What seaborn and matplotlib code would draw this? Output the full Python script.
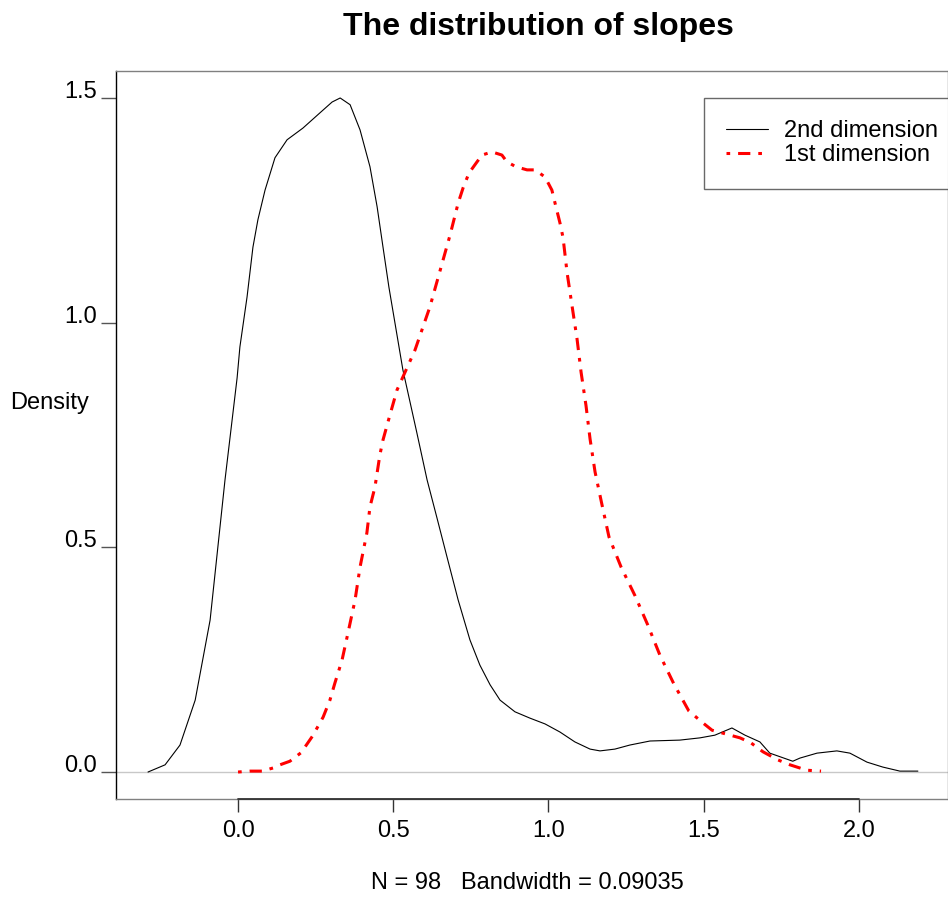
import pandas as pd
import matplotlib
matplotlib.use("Agg")
import matplotlib.pyplot as plt
import matplotlib.transforms as mtransforms
import seaborn as sns

# values
dim2_x = [-0.290, -0.235, -0.187, -0.138, -0.090, -0.042, -0.003, 0.006, 0.029, 0.048,
          0.064, 0.087, 0.119, 0.158, 0.209, 0.264, 0.303, 0.329, 0.361, 0.393,
          0.425, 0.448, 0.467, 0.486, 0.531, 0.576, 0.609, 0.641, 0.673,
          0.709, 0.747, 0.779, 0.812, 0.844, 0.892, 0.940, 0.989, 1.037, 1.085,
          1.134, 1.166, 1.214, 1.262, 1.327, 1.423, 1.488, 1.536, 1.591, 1.633,
          1.681, 1.713, 1.787, 1.810, 1.865, 1.929, 1.971, 2.026, 2.077, 2.132, 2.190]
dim2_y = [0.000, 0.016, 0.060, 0.160, 0.338, 0.650, 0.877, 0.946, 1.057, 1.168,
          1.229, 1.295, 1.367, 1.407, 1.433, 1.467, 1.491, 1.500, 1.485, 1.429,
          1.347, 1.258, 1.168, 1.079, 0.895, 0.755, 0.650, 0.565, 0.479,
          0.383, 0.294, 0.238, 0.194, 0.160, 0.134, 0.120, 0.107, 0.089, 0.067,
          0.051, 0.047, 0.051, 0.060, 0.069, 0.071, 0.076, 0.082, 0.098, 0.082,
          0.067, 0.042, 0.024, 0.031, 0.042, 0.047, 0.042, 0.022, 0.011, 0.002, 0.002]

dim1_x = [0.000, 0.039, 0.077, 0.113, 0.135, 0.167, 0.203, 0.240, 0.274, 0.296,
          0.312, 0.335, 0.354, 0.377, 0.393, 0.415, 0.425, 0.441, 0.457, 0.467,
          0.483, 0.512, 0.531, 0.570, 0.618, 0.683, 0.709, 0.725, 0.744, 0.770,
          0.786, 0.818, 0.850, 0.866, 0.895, 0.931, 0.957, 0.989, 1.011, 1.024,
          1.037, 1.047, 1.060, 1.076, 1.092, 1.105, 1.121, 1.134, 1.150, 1.172,
          1.195, 1.234, 1.279, 1.320, 1.359, 1.404, 1.452, 1.498, 1.527, 1.559,
          1.617, 1.652, 1.691, 1.739, 1.778, 1.832, 1.878]
dim1_y = [0.000, 0.002, 0.002, 0.009, 0.016, 0.024, 0.043, 0.080, 0.122, 0.160,
          0.198, 0.249, 0.309, 0.383, 0.456, 0.532, 0.590, 0.634, 0.706, 0.739,
          0.779, 0.850, 0.879, 0.939, 1.035, 1.195, 1.266, 1.300, 1.333, 1.358,
          1.373, 1.380, 1.373, 1.358, 1.347, 1.340, 1.340, 1.324, 1.295, 1.258,
          1.222, 1.189, 1.111, 1.037, 0.964, 0.890, 0.815, 0.741, 0.668, 0.596,
          0.523, 0.456, 0.392, 0.327, 0.260, 0.196, 0.136, 0.109, 0.093, 0.087,
          0.076, 0.065, 0.045, 0.027, 0.016, 0.004, 0.002]

x_ticks = [0.0, 0.5, 1.0, 1.5, 2.0]
y_ticks = [0.0, 0.5, 1.0, 1.5]
labels = ["2nd dimension", "1st dimension"]

sns.set_theme(style="ticks")
plt.rcParams["font.family"] = ["Liberation Sans", "DejaVu Sans"]
plt.rcParams["text.color"] = "black"
plt.rcParams["xtick.labelcolor"] = "black"
plt.rcParams["ytick.labelcolor"] = "black"

fig = plt.figure(figsize=(9.48, 9.07), dpi=100)
ax = fig.add_axes([0.1224, 0.1191, 0.8776, 0.8026])

# zero reference line
ax.axhline(0, color="#c8c8c8", lw=1.0, zorder=1)

df2 = pd.DataFrame({"x": dim2_x, "y": dim2_y})
df1 = pd.DataFrame({"x": dim1_x, "y": dim1_y})
sns.lineplot(data=df2, x="x", y="y", ax=ax, color="black", linewidth=0.8,
             label=labels[0], estimator=None)
sns.lineplot(data=df1, x="x", y="y", ax=ax, color="#ff0000", linewidth=2.2,
             linestyle=(0, (1.2, 2.6, 4.0, 2.6)), label=labels[1], estimator=None)

ax.set_xlim(-0.393, 2.287)
ax.set_ylim(-0.060, 1.560)
ax.set_xticks(x_ticks)
ax.set_xticklabels([f"{t:.1f}" for t in x_ticks])
ax.set_yticks(y_ticks)
ax.set_yticklabels([f"{t:.1f}" for t in y_ticks])
ax.set_xlabel("")
ax.set_ylabel("")
ax.tick_params(axis="x", length=9, width=1, color="#333333", labelsize=17, pad=6)
ax.tick_params(axis="y", length=11, width=1, color="#555555", labelsize=17, pad=3)
for lab in ax.get_yticklabels():
    lab.set_verticalalignment("baseline")

for side in ["top", "right", "bottom"]:
    ax.spines[side].set_color("#808080")
    ax.spines[side].set_linewidth(1.0)
ax.spines["left"].set_color("black")
ax.spines["left"].set_linewidth(1.0)

# darker axis line between first and last x tick
trans = mtransforms.blended_transform_factory(ax.transData, ax.transAxes)
ax.plot([x_ticks[0], x_ticks[-1]], [0, 0], transform=trans, color="#333333",
        lw=1.3, clip_on=False, zorder=5)

leg = ax.legend(loc="upper left", bbox_to_anchor=(704 / 948, 1 - 98 / 907),
                bbox_transform=fig.transFigure, borderaxespad=0, fontsize=17,
                frameon=True, fancybox=False, handlelength=1.75, handletextpad=0.7,
                labelspacing=0.08, borderpad=0.95)
leg.get_frame().set_edgecolor("#444444")
leg.get_frame().set_linewidth(1.0)

fig.text(538 / 948, 1 - 27 / 907, "The distribution of slopes", ha="center",
         va="center", fontsize=23, fontweight="bold")
fig.text(10 / 948, 1 - 403 / 907, "Density", ha="left", va="center", fontsize=17)
fig.text(527 / 948, 1 - 883 / 907, "N = 98   Bandwidth = 0.09035", ha="center",
         va="center", fontsize=17)

fig.savefig("out.png", dpi=100)
